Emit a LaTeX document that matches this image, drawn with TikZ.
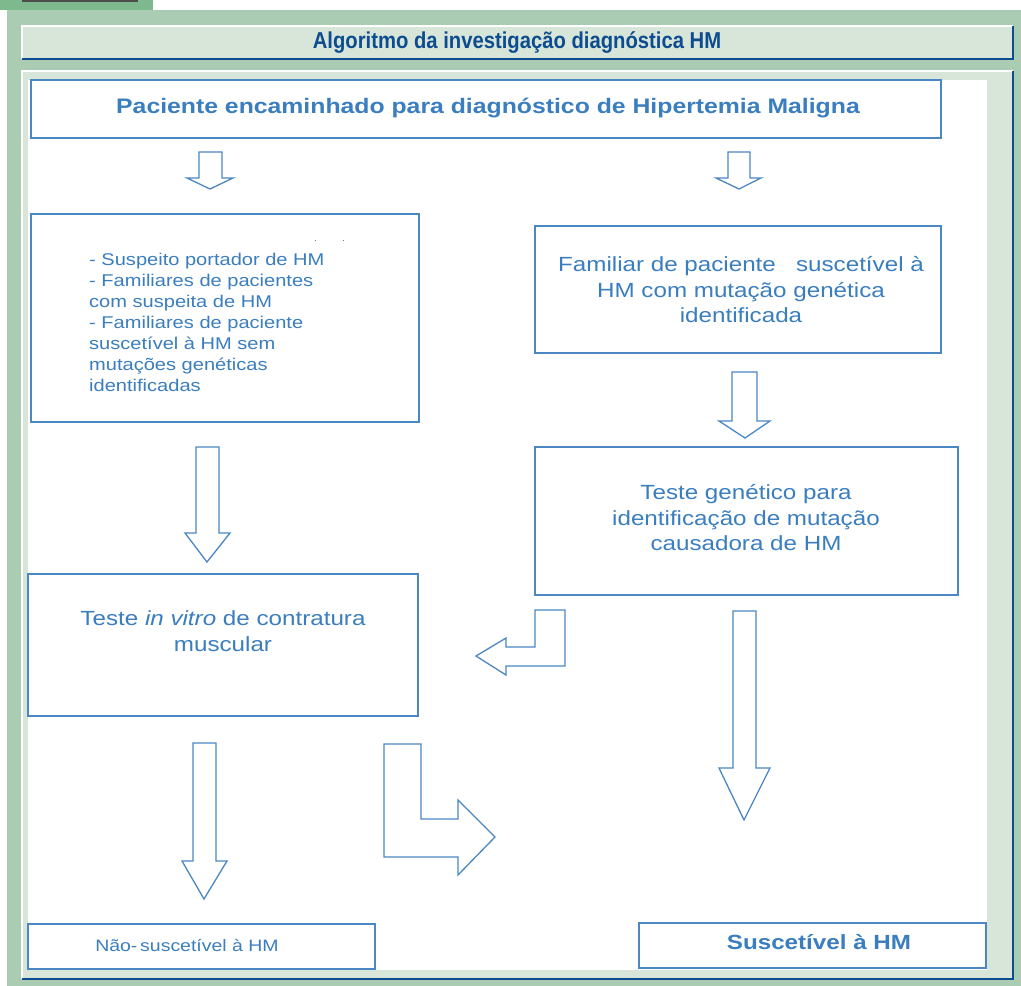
\documentclass[tikz,border=0pt]{standalone}
\usepackage{fontspec}
\setmainfont{Liberation Sans}
\newfontfamily\bodyfont[FakeStretch=1.18]{Liberation Sans}
\newfontfamily\titlefont[FakeStretch=0.88]{Liberation Sans}
\definecolor{framegreen}{HTML}{A9CCB3}
\definecolor{tabgreen}{HTML}{7DB98C}
\definecolor{panel}{HTML}{D8E6DA}
\definecolor{boxblue}{HTML}{4A87C3}
\definecolor{txtblue}{HTML}{3A7EBF}
\definecolor{titleblue}{HTML}{0D4C8F}
\begin{document}
\begin{tikzpicture}[x=1pt,y=-1pt,
  box/.style={draw=boxblue, line width=1.2pt, fill=white, inner sep=0pt},
  blk/.style={draw=boxblue, line width=1.3pt, fill=white, line join=miter},
  txt/.style={text=txtblue, inner sep=0pt, align=center, font=\bodyfont\fontsize{20.5}{25.5}\selectfont}]
\useasboundingbox (0,0) rectangle (1021,986);
\fill[white] (0,0) rectangle (1021,986);
\fill[framegreen] (7,10) rectangle (1021,986);
\fill[tabgreen] (0,0) rectangle (153,10);
\fill[gray!60!black] (22,0) rectangle (138,1.5);
% title bar
\fill[panel] (22,26) rectangle (1013,59);
\draw[white, line width=1.5pt] (22,59) -- (22,26) -- (1013,26);
\draw[titleblue, line width=1.5pt] (22,59) -- (1013,59) -- (1013,26);
\node[font=\titlefont\bfseries\fontsize{23}{27}\selectfont, text=titleblue, inner sep=0pt] (title) at (517,42) {Algoritmo da investigação diagnóstica HM};
% content panel
\fill[panel] (22,71) rectangle (1013,979);
\draw[white, line width=1.5pt] (22,979) -- (22,71) -- (1013,71);
\draw[titleblue, line width=1.5pt] (22,979) -- (1013,979) -- (1013,71);
\fill[white] (28,80) rectangle (987,970);
% boxes
\node[box, minimum width=910, minimum height=58] (top) at (486,109) {};
\node[box, minimum width=388, minimum height=208] (left1) at (225,318) {};
\node[box, minimum width=406, minimum height=127] (right1) at (738,289.5) {};
\node[box, minimum width=423, minimum height=148] (right2) at (746.5,521) {};
\node[box, minimum width=390, minimum height=142] (left3) at (223,645) {};
\node[box, minimum width=347, minimum height=45] (bl) at (201.5,946.5) {};
\node[box, minimum width=347, minimum height=45] (br) at (812.5,945.5) {};
% texts
\node[txt, font=\bodyfont\bfseries\fontsize{21}{25}\selectfont] (toptxt) at (488,108) {Paciente encaminhado para diagnóstico de Hipertemia Maligna};
\node[txt, align=left, anchor=west, font=\bodyfont\fontsize{17}{21}\selectfont] (left1txt) at (89,322)
  {- Suspeito portador de HM\\- Familiares de pacientes\\com suspeita de HM\\- Familiares de paciente\\suscetível à HM sem\\mutações genéticas\\identificadas};
\fill[txtblue] (314.5,239.5) rectangle (316,241);
\fill[txtblue] (342.5,239.5) rectangle (344,241);
\node[txt] (right1txt) at (741,290) {Familiar de paciente\ \ \ suscetível à\\HM com mutação genética\\identificada};
\node[txt] (right2txt) at (746,518) {Teste genético para\\identificação de mutação\\causadora de HM};
\node[txt] (left3txt) at (223,631) {Teste \textit{in vitro} de contratura\\muscular};
\node[txt, font=\bodyfont\fontsize{16.5}{20}\selectfont] (bltxt) at (187,945) {Não-\,suscetível à HM};
\node[txt, font=\bodyfont\bfseries\fontsize{20.5}{24}\selectfont] (brtxt) at (819,942) {Suscetível à HM};
% block arrows
\draw[blk] (199,152) -- (222,152) -- (222,178) -- (233,178) -- (210,189) -- (187,178) -- (199,178) -- cycle;
\draw[blk] (728,152) -- (750,152) -- (750,178) -- (761,178) -- (739,189) -- (716,178) -- (728,178) -- cycle;
\draw[blk] (196,447) -- (219,447) -- (219,533) -- (230,533) -- (207,562) -- (185,533) -- (196,533) -- cycle;
\draw[blk] (732,372) -- (757,372) -- (757,421) -- (770,421) -- (745,438) -- (719,421) -- (732,421) -- cycle;
\draw[blk] (535,610) -- (565,610) -- (565,666) -- (506,666) -- (506,675) -- (476,656) -- (506,638) -- (506,647) -- (535,647) -- cycle;
\draw[blk] (384,744) -- (421,744) -- (421,819) -- (458,819) -- (458,800) -- (495,837) -- (458,875) -- (458,857) -- (384,857) -- cycle;
\draw[blk] (193,743) -- (216,743) -- (216,861) -- (227,861) -- (204,899) -- (182,861) -- (193,861) -- cycle;
\draw[blk] (733,611) -- (756,611) -- (756,768) -- (770,768) -- (744,820) -- (719,768) -- (733,768) -- cycle;
\end{tikzpicture}
\end{document}
